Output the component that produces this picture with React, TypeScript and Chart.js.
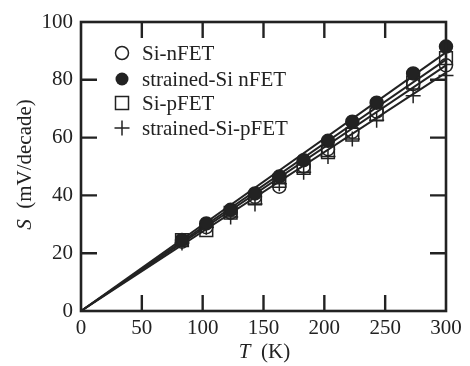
import React, { useEffect, useRef } from "react";
import { Chart, registerables } from "chart.js";

Chart.register(...registerables);

// Measured temperatures (K)
const temperatures = [83, 103, 123, 143, 163, 183, 203, 223, 243, 273, 300];
// Subthreshold swing S (mV/decade)
const siNFET = [24, 29, 34, 39.5, 43, 50, 56, 62, 69, 78.5, 85];
const strainedNFET = [24.6, 30.3, 35, 40.7, 46.5, 52.2, 58.9, 65.5, 72.1, 82.2, 91.5];
const siPFET = [24.5, 28, 34, 39, 45, 49.5, 55, 61, 68, 79, 87.5];
const strainedPFET = [23.5, 29, 32.5, 37, 44, 48, 53.5, 59.5, 66, 74.5, 81.5];

// Fit lines through the origin (endpoints)
const fitT = [0, 300];
const fitStrainedNFET = [0, 89.5];
const fitSiPFET = [0, 87];
const fitSiNFET = [0, 85];
const fitStrainedPFET = [0, 82.5];

const seriesLabels = ["Si-nFET", "strained-Si nFET", "Si-pFET", "strained-Si-pFET"];
const xTickValues = [0, 50, 100, 150, 200, 250, 300];
const yTickValues = [0, 20, 40, 60, 80, 100];

const INK = "#222222";
const SERIF = "'Liberation Serif', 'DejaVu Serif', serif";

const toPoints = (xs: number[], ys: number[]) => xs.map((x, i) => ({ x, y: ys[i] }));

const decorPlugin = {
  id: "decor",
  afterDraw(chart: any) {
    const ctx: CanvasRenderingContext2D = chart.ctx;
    const area = chart.chartArea;
    const xs = chart.scales.x;
    const ys = chart.scales.y;
    ctx.save();
    ctx.strokeStyle = INK;
    ctx.fillStyle = INK;
    // frame
    ctx.lineWidth = 2.6;
    ctx.strokeRect(area.left, area.top, area.right - area.left, area.bottom - area.top);
    // inward ticks
    const tl = 16;
    ctx.lineWidth = 2.4;
    ctx.beginPath();
    xTickValues.slice(1, -1).forEach((v) => {
      const px = xs.getPixelForValue(v);
      ctx.moveTo(px, area.bottom);
      ctx.lineTo(px, area.bottom - tl);
      ctx.moveTo(px, area.top);
      ctx.lineTo(px, area.top + tl);
    });
    yTickValues.slice(1, -1).forEach((v) => {
      const py = ys.getPixelForValue(v);
      ctx.moveTo(area.left, py);
      ctx.lineTo(area.left + tl, py);
      ctx.moveTo(area.right, py);
      ctx.lineTo(area.right - tl, py);
    });
    ctx.stroke();

    // legend
    const lx = 122;
    const tx = 142;
    const rows = [53, 79, 103, 128];
    ctx.lineWidth = 1.5;
    rows.forEach((ry, i) => {
      ctx.beginPath();
      if (i === 0) {
        ctx.arc(lx, ry, 6.5, 0, Math.PI * 2);
        ctx.stroke();
      } else if (i === 1) {
        ctx.arc(lx, ry, 6.5, 0, Math.PI * 2);
        ctx.fill();
      } else if (i === 2) {
        ctx.rect(lx - 6.5, ry - 6.5, 13, 13);
        ctx.stroke();
      } else {
        ctx.moveTo(lx - 7.5, ry);
        ctx.lineTo(lx + 7.5, ry);
        ctx.moveTo(lx, ry - 7.5);
        ctx.lineTo(lx, ry + 7.5);
        ctx.stroke();
      }
      ctx.font = `21px ${SERIF}`;
      ctx.textAlign = "left";
      ctx.textBaseline = "middle";
      ctx.fillText(seriesLabels[i], tx, ry + 1);
    });

    // axis titles
    const drawTitle = (cx: number, cy: number, ital: string, rest: string) => {
      ctx.font = `italic 21px ${SERIF}`;
      const w1 = ctx.measureText(ital).width;
      ctx.font = `21px ${SERIF}`;
      const w2 = ctx.measureText(rest).width;
      const start = cx - (w1 + w2) / 2;
      ctx.textAlign = "left";
      ctx.textBaseline = "middle";
      ctx.font = `italic 21px ${SERIF}`;
      ctx.fillText(ital, start, cy);
      ctx.font = `21px ${SERIF}`;
      ctx.fillText(rest, start + w1, cy);
    };
    drawTitle((area.left + area.right) / 2 + 1, 352, "T", "  (K)");
    ctx.save();
    ctx.translate(25, (area.top + area.bottom) / 2 - 2);
    ctx.rotate(-Math.PI / 2);
    drawTitle(0, 0, "S", "  (mV/decade)");
    ctx.restore();
    ctx.restore();
  },
};

export default function App() {
  const ref = useRef<HTMLCanvasElement | null>(null);
  useEffect(() => {
    if (!ref.current) return;
    const markerBase = {
      showLine: false,
      borderColor: INK,
      pointBorderColor: INK,
      pointBorderWidth: 1.5,
      clip: false as const,
    };
    const lineBase = {
      showLine: true,
      borderColor: INK,
      borderWidth: 2,
      pointRadius: 0,
      fill: false,
      clip: false as const,
    };
    const chart = new Chart(ref.current, {
      type: "scatter",
      data: {
        datasets: [
          {
            ...markerBase,
            label: seriesLabels[1],
            data: toPoints(temperatures, strainedNFET),
            pointStyle: "circle",
            pointRadius: 6.5,
            pointBackgroundColor: INK,
          },
          {
            ...markerBase,
            label: seriesLabels[0],
            data: toPoints(temperatures, siNFET),
            pointStyle: "circle",
            pointRadius: 6.5,
            pointBackgroundColor: "rgba(0,0,0,0)",
          },
          {
            ...markerBase,
            label: seriesLabels[2],
            data: toPoints(temperatures, siPFET),
            pointStyle: "rect",
            pointRadius: 9,
            pointBackgroundColor: "rgba(0,0,0,0)",
          },
          {
            ...markerBase,
            label: seriesLabels[3],
            data: toPoints(temperatures, strainedPFET),
            pointStyle: "cross",
            pointRadius: 7.5,
            pointBackgroundColor: "rgba(0,0,0,0)",
          },
          { ...lineBase, label: "fit1", data: toPoints(fitT, fitStrainedNFET) },
          { ...lineBase, label: "fit2", data: toPoints(fitT, fitSiPFET) },
          { ...lineBase, label: "fit3", data: toPoints(fitT, fitSiNFET) },
          { ...lineBase, label: "fit4", data: toPoints(fitT, fitStrainedPFET) },
        ] as any,
      },
      options: {
        animation: false,
        responsive: false,
        devicePixelRatio: 1,
        layout: { padding: { left: 0, right: 24, top: 22, bottom: 0 } },
        plugins: { legend: { display: false }, tooltip: { enabled: false } },
        scales: {
          x: {
            type: "linear",
            min: 0,
            max: 300,
            afterBuildTicks: (scale: any) => {
              scale.ticks = xTickValues.map((v) => ({ value: v }));
            },
            ticks: {
              color: INK,
              font: { family: SERIF, size: 21 },
              padding: 5,
              maxRotation: 0,
              autoSkip: false,
            },
            grid: { display: false, drawTicks: false },
            border: { display: false },
            afterFit: (scale: any) => {
              scale.height = 55;
            },
          },
          y: {
            type: "linear",
            min: 0,
            max: 100,
            afterBuildTicks: (scale: any) => {
              scale.ticks = yTickValues.map((v) => ({ value: v }));
            },
            ticks: {
              color: INK,
              font: { family: SERIF, size: 21 },
              padding: 8,
              autoSkip: false,
            },
            grid: { display: false, drawTicks: false },
            border: { display: false },
            afterFit: (scale: any) => {
              scale.width = 81;
            },
          },
        },
      } as any,
      plugins: [decorPlugin],
    });
    return () => chart.destroy();
  }, []);
  return (
    <div style={{ position: "absolute", left: 0, top: 0, width: 470, height: 366, background: "#fff" }}>
      <canvas ref={ref} width={470} height={366} />
    </div>
  );
}
